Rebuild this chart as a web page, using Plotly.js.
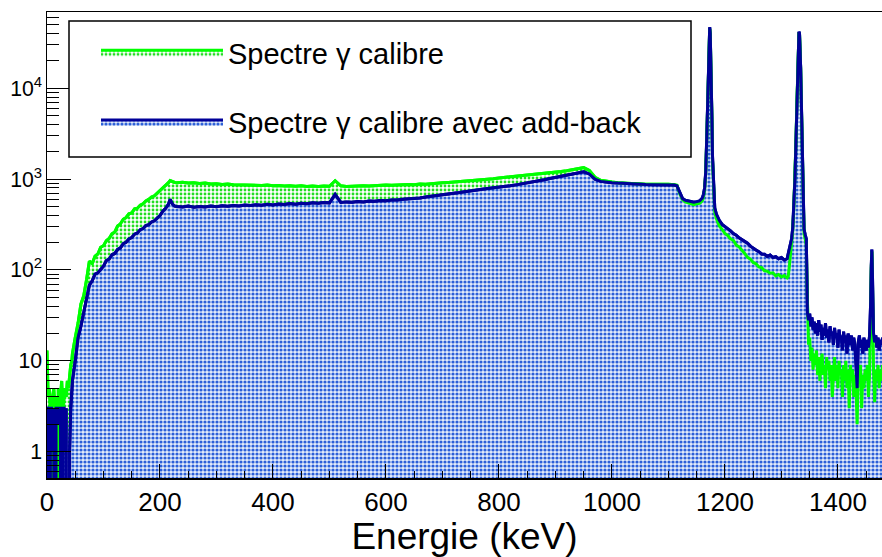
<!DOCTYPE html>
<html><head><meta charset="utf-8">
<script src="https://cdn.plot.ly/plotly-3.0.1.min.js"></script>
<style>html,body{margin:0;padding:0;background:#fff;} #chart{width:882px;height:557px;}</style>
</head><body><div id="chart"></div>
<script>
// ---- Energy (keV) bins, by region ----
const energyLow = [0,2,4,6,8,10,12,14,16,18,20,22,24,26,28,30,32,34,36,38,40,42,44];
const energyRise = [45,50,55,60,65,70,75,80,85,90,95,100,105,110,115,120,125,130,135,140,145,150,155,160,165,170,175,180,185,190,195,200,205,210,215];
const energyPlateau = [218,222,226,230,240,250,260,270,280,290,300,
  310,320,330,340,350,360,370,380,390,400,410,420,430,440,450,460,470,480,490,500,
  510,520,530,540,550,560,570,580,590,600,610,620,630,640,650,660,670,680,690,700,
  710,720,730,740,750,760,770,780,790,800,810,820,830,840,850,860,870,880,890,900,
  910,920,930,940,950,960,970,980,990,1000,1010,1020,1030,1040,1050,1060,1070,1080,1090,1100,1110];
const energyPeaks = [1115,1120,1125,1130,1135,1140,1145,1150,1155,1160,1162,1164,1166,1168,
  1170,1171,1172,1173,1174,1175,1176,1177,1178,1180,1182,1185,
  1190,1195,1200,1205,1210,1215,1220,1225,1230,1235,1240,1245,1250,1255,1260,1265,1270,1275,1280,1285,1290,1295,1300,1305,1310,
  1312,1314,1316,1318,1320,1322,1324,1326,1327,1328,1329,1330,1331,1332,1333,1334,1335,1336,1337,1338,1340,1342,1344];
const energyTail = [1345,1346,1348,1350,1352,1354,1356,1358,1360,1362,1364,1366,1368,1370,1372,1374,1376,1378,1380,1382,1384,
  1386,1388,1390,1392,1394,1396,1398,1400,1402,1404,1406,1408,1410,1412,1414,1416,1418,1420,1422,1424,
  1426,1428,1430,1432,1434,1436,1438,1440,1442,1444,1446,1448,1450,1452,1454,1456,
  1457,1458,1459,1460,1461,1462,1463,1465,1467,1469,1471,1473,1475,1477,1479];

// ---- Spectre gamma calibre (counts) ----
const calibLow = [13,4,5,3,0,4,5,3,4,0,5,3,4,6,3,4,5,4,6,5,7,9,10];
const calibRise = [12,18,26,42,52,78,125,118,142,150,178,185,210,222,250,262,305,322,362,378,415,425,470,478,515,535,575,598,635,655,700,735,795,845,915];
const calibPlateau = [965,935,920,915,925,905,910,895,905,885,890,
  875,885,870,865,875,858,865,850,860,845,852,840,848,835,845,832,840,830,838,835,
  960,845,832,842,838,848,840,852,848,860,855,866,862,875,870,885,880,895,900,910,
  920,930,935,950,955,975,985,1000,1010,1030,1045,1060,1065,1085,1100,1115,1135,1150,1170,1190,
  1215,1240,1265,1300,1340,1250,1050,970,945,930,915,905,902,895,888,880,877,882,872,876,870];
const calibPeaks = [855,690,592,562,548,532,522,534,540,580,640,760,1150,3000,
  10500,21000,36000,45500,39000,23000,10500,4200,1600,680,430,365,
  305,280,252,240,220,212,188,180,163,152,138,132,121,117,108,106,98,97,92,93,86,89,84,87,82,
  85,110,150,200,270,500,1000,2900,5600,10500,19500,31000,41000,39000,29000,16500,8000,4000,1400,500,250,220,190];
const calibTail = [80,30,15,18,10,14,8,12,9,13,7,11,6,10,12,7,9,5,11,8,10,
  6,9,4,8,11,6,9,5,10,7,8,4,9,6,10,5,8,3,9,6,
  8,4,7,5,2,8,6,9,3,7,5,8,6,9,4,7,
  12,35,100,160,85,25,8,3.5,8,6,9,5,8,6,9];

// ---- Spectre gamma calibre avec add-back (counts) ----
const addbackLow = [3,3,0,3,3,1,3,0,3,3,2,3,3,0,3,3,1,3,0,0,1,3,5];
const addbackRise = [6,10,18,24,34,44,68,76,90,93,102,110,127,132,147,152,168,175,195,202,220,228,248,256,278,286,308,316,338,348,372,398,445,478,530];
const addbackPlateau = [600,530,505,500,494,505,492,500,495,505,498,
  508,502,512,505,518,512,522,515,528,520,532,525,538,530,542,536,548,542,553,548,
  680,555,562,558,568,562,575,570,582,578,590,588,600,605,615,620,635,645,660,670,
  685,700,712,730,742,760,775,790,800,815,830,845,865,885,905,930,955,985,1015,1045,
  1085,1115,1150,1180,1205,1140,1000,945,925,915,905,895,893,885,880,872,870,872,865,868,862];
const addbackPeaks = [845,700,610,585,576,565,558,566,575,620,680,800,1200,3200,
  11000,22000,37000,47000,40000,24000,11000,4500,1800,750,480,410,
  352,318,302,283,270,252,242,226,216,203,197,183,176,166,159,150,149,141,146,137,140,133,137,129,133,
  150,170,185,220,290,520,1050,3000,5800,11000,20000,32000,42000,40000,30000,17000,8500,4200,1500,550,280,245,220];
const addbackTail = [90,34,28,33,24,30,22,27,20,26,19,28,21,25,17,23,19,26,18,22,16,
  24,19,21,15,23,18,20,14,22,17,19,13,21,16,19,12,20,17,15,19,
  13,18,15,9,5,16,19,14,17,12,18,15,13,17,14,19,
  25,45,110,168,95,35,20,16,19,14,18,13,17,15,18];

const seriesNames = ['Spectre γ calibre', 'Spectre γ calibre avec add-back'];

const energy = [].concat(energyLow, energyRise, energyPlateau, energyPeaks, energyTail);
const calib = [].concat(calibLow, calibRise, calibPlateau, calibPeaks, calibTail);
const addback = [].concat(addbackLow, addbackRise, addbackPlateau, addbackPeaks, addbackTail);

const FONT = 'Liberation Sans, Arial, Helvetica, sans-serif';
const GREEN = '#00ff00', NAVY = '#000099';

const traces = [
  {x: energy, y: calib, type: 'scatter', mode: 'lines', name: seriesNames[0], legendgroup: 'a',
   line: {color: GREEN, width: 3}, fill: 'tozeroy',
   fillpattern: {shape: '.', fgcolor: '#22dd22', bgcolor: '#ffffff', size: 4, solidity: 0.4}},
  {x: energy, y: addback, type: 'scatter', mode: 'lines', name: seriesNames[1], legendgroup: 'b',
   line: {color: NAVY, width: 3}, fill: 'tozeroy',
   fillpattern: {shape: '.', fgcolor: '#2b5fd8', bgcolor: '#e4ecfa', size: 4, solidity: 0.5}},
  {x: energy, y: calib, type: 'scatter', mode: 'lines', showlegend: false, hoverinfo: 'skip',
   line: {color: GREEN, width: 3}},
  {x: energy, y: addback, type: 'scatter', mode: 'lines', showlegend: false, hoverinfo: 'skip',
   line: {color: NAVY, width: 3}}
];

const W = 882, H = 557, L = 47, R = 0, T = 12, B = 79;
const PW = W - L - R, PH = H - T - B;

const layout = {
  width: W, height: H,
  margin: {l: L, r: R, t: T, b: B, pad: 0},
  paper_bgcolor: 'white', plot_bgcolor: 'white',
  font: {family: FONT, color: 'black'},
  showlegend: true,
  legend: {x: (96 - L) / PW, y: 1 - (27 - T) / PH, xanchor: 'left', yanchor: 'top',
           bgcolor: 'rgba(0,0,0,0)', borderwidth: 0, font: {size: 29, family: FONT},
           tracegroupgap: 29, itemwidth: 122},
  xaxis: {range: [0, 1478], showgrid: false, zeroline: false, showline: true, linecolor: 'black',
          linewidth: 1.5, mirror: true, ticks: 'inside', ticklen: 14, tickwidth: 1, tickcolor: 'black',
          tick0: 0, dtick: 200, tickfont: {size: 26, family: FONT},
          minor: {dtick: 50, ticklen: 7, tickcolor: 'black', ticks: 'inside', showgrid: false},
          title: {text: 'Energie (keV)', font: {size: 37, family: FONT}, standoff: 1}},
  yaxis: {type: 'log', range: [-0.29, 4.84], showgrid: false, zeroline: false, showline: true,
          linecolor: 'black', linewidth: 1.5, ticks: 'inside', ticklen: 24, tickwidth: 1, tickcolor: 'black',
          dtick: 1, exponentformat: 'power', tickfont: {size: 17, family: FONT},
          minor: {dtick: 'D1', ticklen: 12, tickcolor: 'black', ticks: 'inside', showgrid: false}},
  shapes: [{type: 'rect', xref: 'paper', yref: 'paper',
            x0: (69 - L) / PW, x1: (691 - L) / PW, y0: 1 - (157 - T) / PH, y1: 1 - (21 - T) / PH,
            line: {color: 'black', width: 1.5}, fillcolor: 'white', layer: 'above'}]
};

Plotly.newPlot('chart', traces, layout, {staticPlot: true, displayModeBar: false});
</script>
</body></html>
